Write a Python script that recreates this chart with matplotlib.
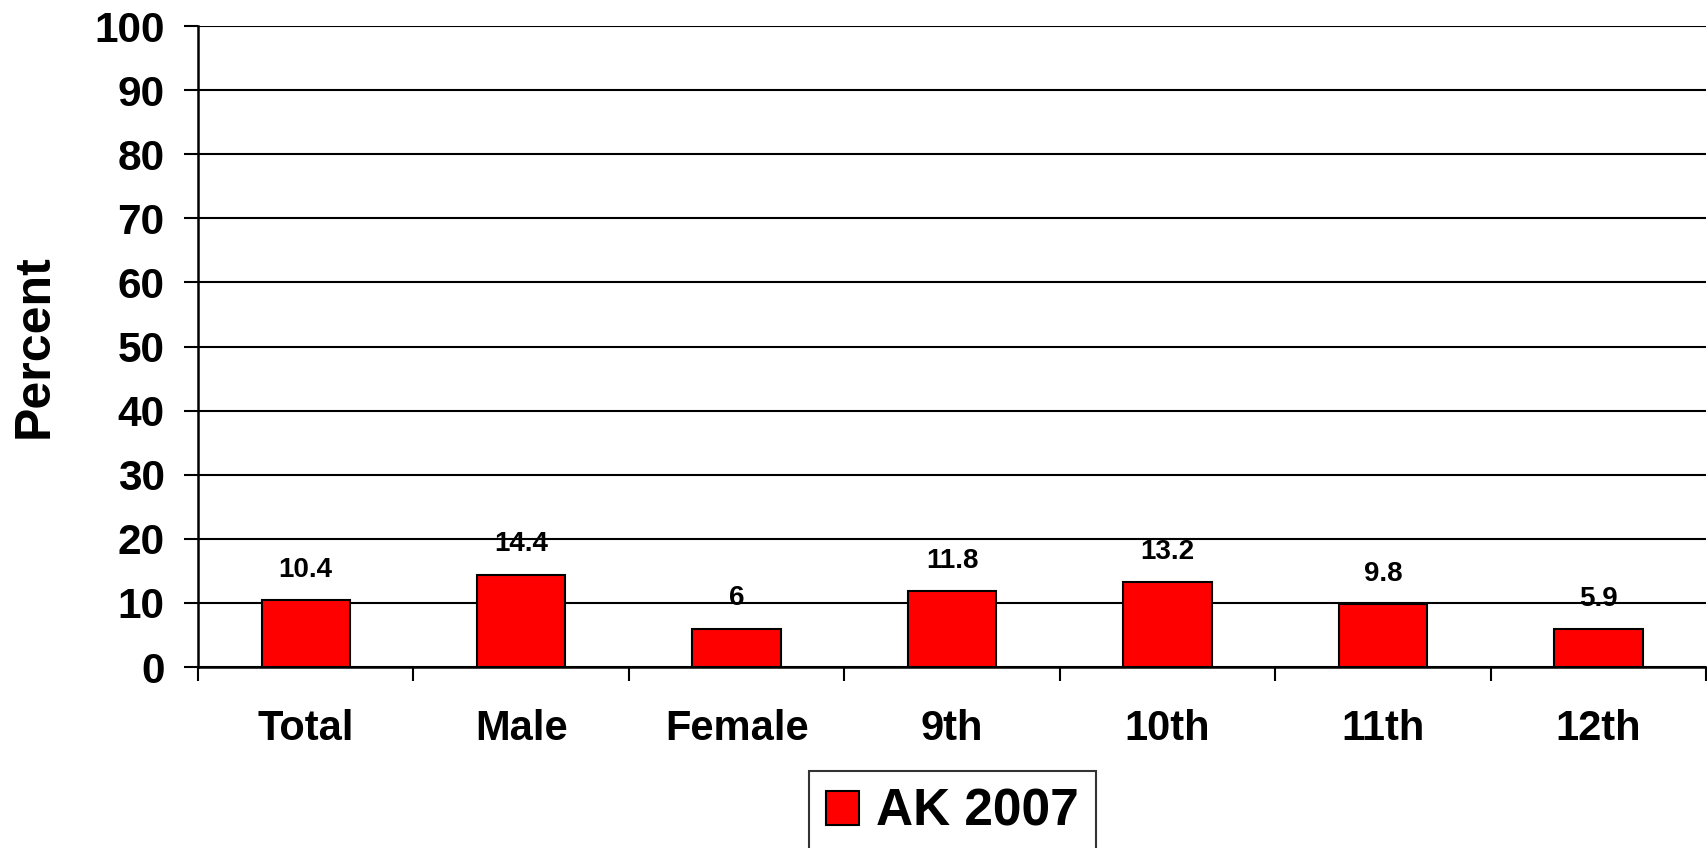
import matplotlib.pyplot as plt
from matplotlib.patches import Patch

# categories and values
cats = ['Total', 'Male', 'Female', '9th', '10th', '11th', '12th']
vals = [10.4, 14.4, 6, 11.8, 13.2, 9.8, 5.9]
labels = ['10.4', '14.4', '6', '11.8', '13.2', '9.8', '5.9']
yticks = [0, 10, 20, 30, 40, 50, 60, 70, 80, 90, 100]

plt.rcParams['font.family'] = ['Liberation Sans', 'DejaVu Sans']
plt.rcParams['font.weight'] = 'bold'

fig = plt.figure(figsize=(17.07, 8.48), dpi=100)
ax = fig.add_axes([0.116, 0.2134, 0.8835, 0.7559])

x = list(range(len(cats)))
ax.bar(x, vals, width=0.41, color='#ff0000', edgecolor='black', linewidth=1.5, zorder=3)

for xi, v, t in zip(x, vals, labels):
    ax.annotate(t, (xi, v), xytext=(0, 22), textcoords='offset points',
                ha='center', va='center', fontsize=20, fontweight='bold')

ax.set_xlim(-0.5, len(cats) - 0.5)
ax.set_ylim(0, 100)
ax.set_yticks(yticks)
ax.set_yticklabels([str(t) for t in yticks], fontsize=30.5, fontweight='bold')
ax.yaxis.grid(True, color='black', linewidth=1.5, zorder=0)
ax.set_axisbelow(True)

# category ticks sit between the bars
ax.set_xticks([i + 0.5 for i in range(-1, len(cats))], minor=False)
ax.set_xticklabels([])
ax.tick_params(axis='x', length=10, width=1.5, color='black')
ax.set_xticks(x, minor=True)
ax.set_xticklabels(cats, minor=True, fontsize=30, fontweight='bold')
ax.tick_params(axis='x', which='minor', length=0, pad=30)
ax.tick_params(axis='y', length=10, width=1.5, pad=14)

for s in ['top', 'right']:
    ax.spines[s].set_visible(False)
ax.spines['left'].set_linewidth(1.8)
ax.spines['bottom'].set_linewidth(1.8)

ax.set_ylabel('Percent', fontsize=36, fontweight='bold')
ax.yaxis.set_label_coords(-0.093, 0.5)

leg = fig.legend(handles=[Patch(facecolor='#ff0000', edgecolor='black', linewidth=1.5)],
                 labels=['AK 2007'], loc='upper center', bbox_to_anchor=(0.558, 0.091),
                 borderaxespad=0, fancybox=False, frameon=True, edgecolor='black',
                 handlelength=0.65, handleheight=0.65, borderpad=0.33, handletextpad=0.33,
                 prop={'weight': 'bold', 'size': 37})
leg.get_frame().set_linewidth(1.5)

fig.savefig('out.png', dpi=100)
